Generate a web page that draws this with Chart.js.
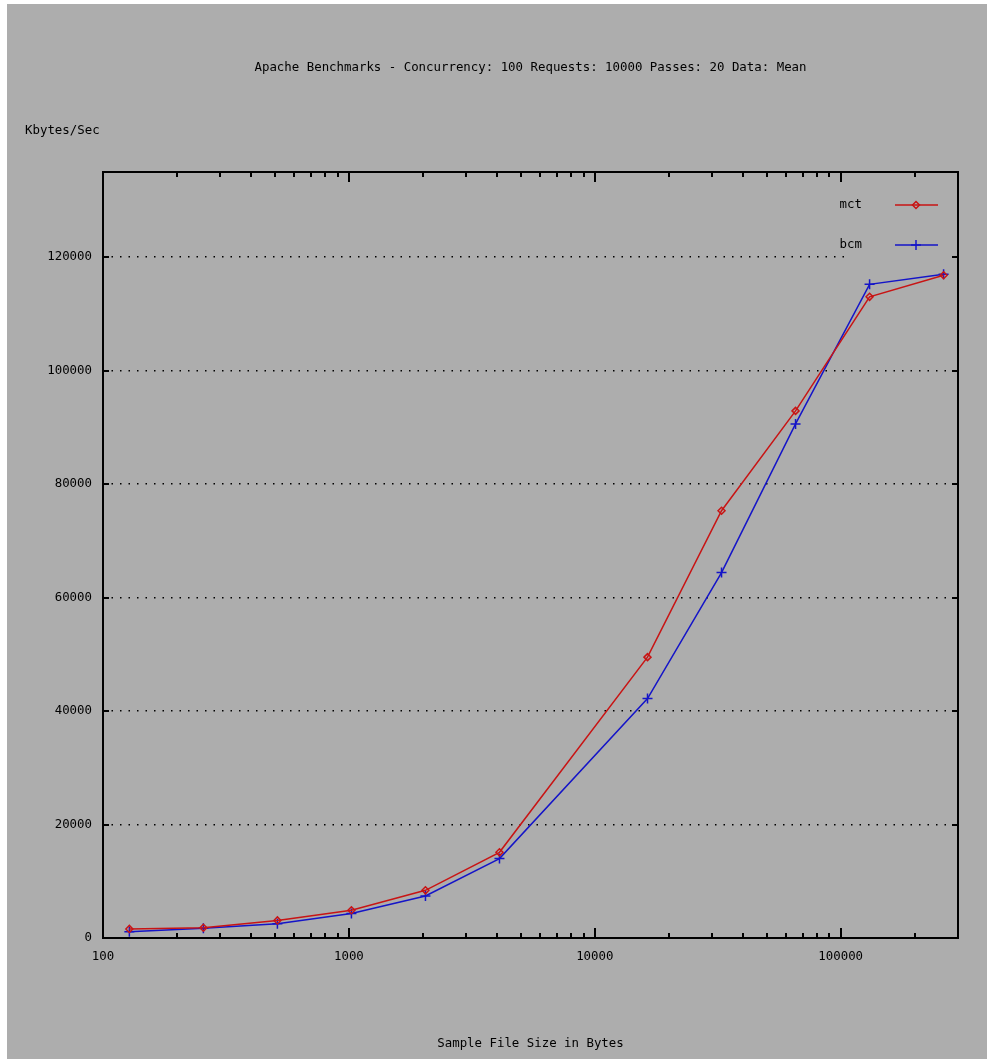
<!DOCTYPE html>
<html>
<head>
<meta charset="utf-8">
<script src="https://cdn.jsdelivr.net/npm/chart.js@4"></script>
<style>
  html, body { margin: 0; padding: 0; background: #fff; }
  #wrap { position: absolute; left: 7px; top: 4px; width: 980px; height: 1055px; background: #adadad; }
</style>
</head>
<body>
<div id="wrap"><canvas id="chart" width="980" height="1055"></canvas></div>
<script>
const fileSizes = [128, 256, 512, 1024, 2048, 4096, 16384, 32768, 65536, 131072, 262144];
const mctValues = [1600, 1800, 3100, 4900, 8400, 15100, 49500, 75300, 92900, 113000, 116800];
const bcmValues = [1100, 1700, 2500, 4300, 7400, 14000, 42200, 64400, 90600, 115200, 117000];
const xTicks = [100, 1000, 10000, 100000];
const yTicks = [0, 20000, 40000, 60000, 80000, 100000, 120000];

const titleText = 'Apache Benchmarks - Concurrency: 100 Requests: 10000 Passes: 20 Data: Mean';
const yLabel = 'Kbytes/Sec';
const xLabel = 'Sample File Size in Bytes';

const FONT = '12.4px "DejaVu Sans Mono", monospace';
const RED = '#c81414';
const BLUE = '#1414c8';

// gnuplot style frame, inward ticks, legend and labels
const gnuplotLook = {
    id: 'gnuplotLook',
    beforeDatasetsDraw(chart) {
        const ctx = chart.ctx;
        ctx.save();
        ctx.fillStyle = '#adadad';
        ctx.fillRect(843, 180, 98, 76); // key area clears the grid
        ctx.restore();
    },
    afterDraw(chart) {
        const ctx = chart.ctx;
        const a = chart.chartArea;
        const xs = chart.scales.x, ys = chart.scales.y;
        ctx.save();
        ctx.strokeStyle = '#000';
        ctx.lineWidth = 2;
        ctx.strokeRect(a.left, a.top, a.right - a.left, a.bottom - a.top);

        ctx.beginPath();
        for (let d = 100; d <= 100000; d *= 10) {
            for (let k = 1; k <= 9; k++) {
                const v = d * k;
                if (v > xs.max) break;
                const px = Math.round(xs.getPixelForValue(v));
                const len = k === 1 ? 10 : 5;
                ctx.moveTo(px, a.bottom); ctx.lineTo(px, a.bottom - len);
                ctx.moveTo(px, a.top); ctx.lineTo(px, a.top + len);
            }
        }
        yTicks.forEach(v => {
            const py = Math.round(ys.getPixelForValue(v));
            ctx.moveTo(a.left, py); ctx.lineTo(a.left + 6, py);
            ctx.moveTo(a.right, py); ctx.lineTo(a.right - 6, py);
        });
        ctx.stroke();

        ctx.fillStyle = '#000';
        ctx.font = FONT;
        ctx.textBaseline = 'middle';
        ctx.textAlign = 'center';
        ctx.fillText(titleText, (a.left + a.right) / 2, 64);
        ctx.fillText(xLabel, (a.left + a.right) / 2, 1040);
        ctx.textAlign = 'left';
        ctx.fillText(yLabel, 18, 127);

        // key
        const keys = [['mct', RED, 'rectRot', 201], ['bcm', BLUE, 'cross', 241]];
        keys.forEach(([name, col, style, y]) => {
            ctx.fillStyle = '#000';
            ctx.textAlign = 'right';
            ctx.fillText(name, 855, y);
            ctx.strokeStyle = col;
            ctx.lineWidth = 1.5;
            ctx.beginPath();
            ctx.moveTo(888, y); ctx.lineTo(931, y);
            ctx.stroke();
            ctx.fillStyle = 'rgba(0,0,0,0)';
            Chart.helpers.drawPoint(ctx, {pointStyle: style, radius: style === 'cross' ? 5 : 3.5, borderWidth: 1.5}, 909, y);
        });
        ctx.restore();
    }
};

new Chart(document.getElementById('chart').getContext('2d'), {
    type: 'line',
    data: {
        datasets: [{
            label: 'mct',
            data: fileSizes.map((s, i) => ({x: s, y: mctValues[i]})),
            borderColor: RED,
            backgroundColor: 'rgba(0,0,0,0)',
            borderWidth: 1.5,
            pointStyle: 'rectRot',
            pointRadius: 3.5,
            pointBorderWidth: 1.5,
            tension: 0
        }, {
            label: 'bcm',
            data: fileSizes.map((s, i) => ({x: s, y: bcmValues[i]})),
            borderColor: BLUE,
            backgroundColor: 'rgba(0,0,0,0)',
            borderWidth: 1.5,
            pointStyle: 'cross',
            pointRadius: 5,
            pointBorderWidth: 1.5,
            tension: 0
        }]
    },
    options: {
        responsive: false,
        animation: false,
        layout: { padding: { top: 168, right: 29, bottom: 0, left: 0 } },
        plugins: { legend: { display: false }, title: { display: false }, tooltip: { enabled: false } },
        scales: {
            x: {
                type: 'logarithmic',
                min: 100,
                max: 300000,
                afterBuildTicks: s => { s.ticks = xTicks.map(v => ({value: v})); },
                afterFit: s => { s.height = 121; },
                grid: { display: false, drawTicks: false },
                border: { display: false },
                ticks: {
                    color: '#000',
                    font: { family: '"DejaVu Sans Mono", monospace', size: 12.4 },
                    padding: 11,
                    maxRotation: 0,
                    callback: v => String(v)
                }
            },
            y: {
                min: 0,
                max: 135000,
                afterBuildTicks: s => { s.ticks = yTicks.map(v => ({value: v})); },
                afterFit: s => { s.width = 96; },
                grid: { color: '#000', lineWidth: 1.5, drawTicks: false },
                border: { display: false, dash: [1.5, 7] },
                ticks: {
                    color: '#000',
                    font: { family: '"DejaVu Sans Mono", monospace', size: 12.4 },
                    padding: 11,
                    callback: v => String(v)
                }
            }
        }
    },
    plugins: [gnuplotLook]
});
</script>
</body>
</html>
